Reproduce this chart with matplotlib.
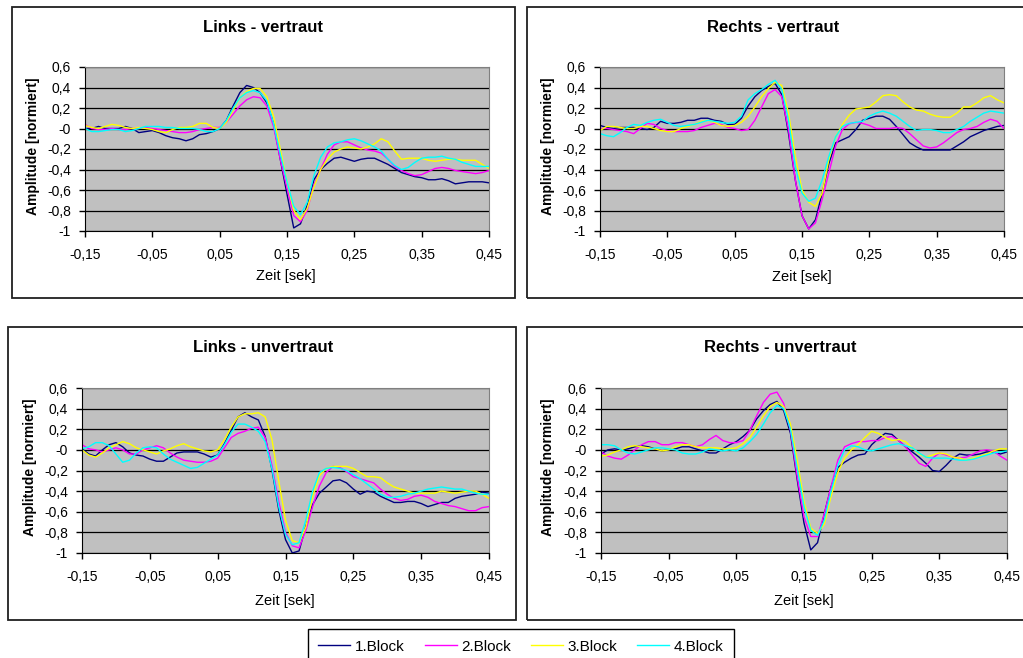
import numpy as np
import matplotlib
matplotlib.use("Agg")
import matplotlib.pyplot as plt
from matplotlib.patches import Rectangle
from matplotlib.ticker import FuncFormatter

plt.rcParams['font.family'] = ['Liberation Sans', 'DejaVu Sans']

# time axis (seconds), one sample every 10 ms
zeit = np.round(np.arange(-0.15, 0.4501, 0.01), 2)

blocks = ['1.Block', '2.Block', '3.Block', '4.Block']
colors = ['#000080', '#FF00FF', '#FFFF00', '#00FFFF']

# Links - vertraut
lv_b1 = [0.0, 0.0, 0.02, 0.0, 0.0, 0.0, 0.02, 0.0, -0.04, -0.03, -0.02, -0.04, -0.07, -0.09, -0.10,
         -0.12, -0.10, -0.06, -0.05, -0.03, 0.0, 0.08, 0.22, 0.35, 0.42, 0.40, 0.35, 0.25, 0.05, -0.30,
         -0.64, -0.97, -0.93, -0.75, -0.50, -0.40, -0.34, -0.29, -0.28, -0.30, -0.32, -0.30, -0.29, -0.29, -0.32,
         -0.35, -0.39, -0.43, -0.45, -0.47, -0.48, -0.50, -0.50, -0.49, -0.51, -0.54, -0.53, -0.52, -0.52, -0.52,
         -0.53]
lv_b2 = [0.04, 0.0, -0.01, -0.01, 0.0, -0.01, -0.01, 0.0, 0.0, 0.01, 0.0, -0.01, -0.02, -0.03, -0.04,
         -0.04, -0.03, -0.01, 0.0, 0.01, 0.01, 0.06, 0.14, 0.22, 0.28, 0.31, 0.30, 0.22, 0.02, -0.30,
         -0.58, -0.85, -0.91, -0.80, -0.55, -0.40, -0.25, -0.16, -0.13, -0.13, -0.16, -0.19, -0.21, -0.22, -0.24,
         -0.30, -0.37, -0.41, -0.44, -0.46, -0.45, -0.42, -0.39, -0.38, -0.39, -0.41, -0.42, -0.43, -0.44, -0.43,
         -0.41]
lv_b3 = [0.03, 0.01, 0.0, 0.02, 0.04, 0.03, 0.01, 0.0, 0.01, 0.0, -0.01, -0.03, -0.04, -0.01, 0.01,
         0.01, 0.02, 0.05, 0.05, 0.01, 0.0, 0.06, 0.18, 0.30, 0.36, 0.39, 0.39, 0.31, 0.12, -0.20,
         -0.52, -0.80, -0.89, -0.78, -0.57, -0.40, -0.30, -0.23, -0.20, -0.18, -0.19, -0.20, -0.18, -0.15, -0.10,
         -0.13, -0.22, -0.30, -0.29, -0.29, -0.29, -0.31, -0.32, -0.31, -0.30, -0.30, -0.31, -0.31, -0.31, -0.35,
         -0.39]
lv_b4 = [0.0, -0.03, -0.03, -0.02, -0.01, -0.01, -0.03, -0.02, 0.0, 0.02, 0.02, 0.02, 0.01, 0.01, 0.0,
         0.0, 0.0, -0.01, -0.03, -0.03, 0.0, 0.08, 0.20, 0.30, 0.35, 0.37, 0.35, 0.27, 0.05, -0.25,
         -0.52, -0.76, -0.84, -0.72, -0.46, -0.28, -0.18, -0.14, -0.13, -0.11, -0.10, -0.12, -0.15, -0.18, -0.22,
         -0.30, -0.36, -0.40, -0.38, -0.33, -0.29, -0.28, -0.28, -0.27, -0.29, -0.30, -0.33, -0.35, -0.37, -0.37,
         -0.37]

# Rechts - vertraut
rv_b1 = [0.03, 0.01, 0.0, 0.01, 0.01, 0.01, 0.0, -0.01, 0.01, 0.07, 0.05, 0.05, 0.06, 0.08, 0.08,
         0.10, 0.10, 0.08, 0.07, 0.04, 0.04, 0.10, 0.22, 0.31, 0.37, 0.41, 0.44, 0.33, -0.05, -0.50,
         -0.85, -0.98, -0.89, -0.63, -0.34, -0.14, -0.11, -0.08, -0.01, 0.08, 0.10, 0.12, 0.12, 0.09, 0.02,
         -0.06, -0.14, -0.18, -0.21, -0.21, -0.21, -0.21, -0.21, -0.17, -0.13, -0.08, -0.05, -0.02, 0.0, 0.02,
         0.03]
rv_b2 = [0.0, 0.0, -0.01, -0.02, -0.03, -0.05, 0.0, 0.05, 0.04, 0.0, -0.02, -0.03, -0.03, -0.03, -0.02,
         0.01, 0.03, 0.05, 0.04, 0.01, 0.0, -0.02, -0.01, 0.08, 0.21, 0.34, 0.38, 0.31, -0.01, -0.50,
         -0.85, -0.98, -0.92, -0.69, -0.43, -0.17, -0.01, 0.045, 0.06, 0.05, 0.03, 0.0, 0.0, 0.0, 0.01,
         0.0, -0.05, -0.11, -0.17, -0.19, -0.18, -0.14, -0.09, -0.04, -0.01, 0.0, 0.02, 0.06, 0.09, 0.07,
         0.0]
rv_b3 = [-0.02, 0.02, 0.02, 0.01, 0.0, 0.0, 0.02, 0.02, 0.0, -0.02, -0.03, -0.03, 0.0, 0.02, 0.04,
         0.07, 0.08, 0.06, 0.03, 0.02, 0.03, 0.06, 0.12, 0.21, 0.31, 0.39, 0.45, 0.42, 0.15, -0.27,
         -0.60, -0.72, -0.76, -0.63, -0.30, -0.08, 0.04, 0.13, 0.19, 0.20, 0.21, 0.26, 0.32, 0.33, 0.32,
         0.26, 0.21, 0.18, 0.17, 0.14, 0.12, 0.11, 0.11, 0.15, 0.21, 0.21, 0.25, 0.30, 0.32, 0.28,
         0.25]
rv_b4 = [-0.05, -0.07, -0.08, -0.04, 0.01, 0.04, 0.03, 0.06, 0.08, 0.09, 0.06, 0.03, 0.02, 0.03, 0.04,
         0.06, 0.08, 0.07, 0.06, 0.05, 0.06, 0.12, 0.28, 0.34, 0.38, 0.43, 0.47, 0.38, 0.08, -0.37,
         -0.63, -0.71, -0.68, -0.50, -0.27, -0.08, 0.02, 0.05, 0.06, 0.07, 0.12, 0.15, 0.17, 0.15, 0.12,
         0.07, 0.02, -0.02, -0.01, -0.01, -0.02, -0.04, -0.04, -0.01, 0.02, 0.07, 0.11, 0.15, 0.17, 0.16,
         0.15]

# Links - unvertraut
lu_b1 = [0.01, -0.04, -0.06, 0.0, 0.05, 0.07, 0.03, -0.03, -0.05, -0.06, -0.09, -0.11, -0.11, -0.07, -0.03,
         -0.02, -0.02, -0.02, -0.04, -0.07, -0.05, 0.06, 0.19, 0.32, 0.36, 0.32, 0.29, 0.13, -0.19, -0.58,
         -0.87, -1.0, -0.98, -0.74, -0.53, -0.42, -0.36, -0.30, -0.29, -0.32, -0.38, -0.43, -0.40, -0.41, -0.45,
         -0.48, -0.51, -0.51, -0.50, -0.50, -0.52, -0.55, -0.53, -0.51, -0.51, -0.47, -0.45, -0.44, -0.43, -0.41,
         -0.42]
lu_b2 = [0.05, 0.01, 0.0, -0.02, 0.0, 0.02, 0.0, -0.04, -0.04, 0.0, 0.02, 0.04, 0.02, -0.03, -0.07,
         -0.10, -0.11, -0.12, -0.12, -0.11, -0.08, 0.02, 0.12, 0.16, 0.18, 0.21, 0.22, 0.12, -0.15, -0.50,
         -0.80, -0.93, -0.95, -0.78, -0.55, -0.35, -0.22, -0.16, -0.17, -0.21, -0.26, -0.28, -0.30, -0.32, -0.38,
         -0.43, -0.47, -0.49, -0.48, -0.45, -0.44, -0.46, -0.50, -0.52, -0.54, -0.55, -0.57, -0.59, -0.59, -0.56,
         -0.55]
lu_b3 = [0.0, -0.05, -0.07, -0.03, 0.02, 0.05, 0.08, 0.06, 0.02, 0.0, -0.02, -0.04, -0.01, 0.01, 0.04,
         0.06, 0.03, 0.01, -0.01, -0.02, 0.0, 0.10, 0.22, 0.32, 0.35, 0.35, 0.36, 0.32, 0.10, -0.30,
         -0.68, -0.88, -0.90, -0.75, -0.45, -0.25, -0.18, -0.16, -0.16, -0.16, -0.18, -0.22, -0.26, -0.26, -0.27,
         -0.32, -0.36, -0.38, -0.40, -0.42, -0.42, -0.42, -0.42, -0.40, -0.41, -0.42, -0.41, -0.40, -0.40, -0.43,
         -0.47]
lu_b4 = [0.01, 0.03, 0.07, 0.07, 0.04, -0.04, -0.12, -0.10, -0.03, 0.02, 0.03, 0.02, -0.04, -0.09, -0.12,
         -0.15, -0.18, -0.17, -0.13, -0.09, -0.05, 0.05, 0.17, 0.25, 0.25, 0.22, 0.18, 0.08, -0.18, -0.55,
         -0.82, -0.92, -0.90, -0.68, -0.40, -0.22, -0.18, -0.17, -0.18, -0.20, -0.24, -0.28, -0.33, -0.38, -0.43,
         -0.46, -0.46, -0.45, -0.43, -0.42, -0.40, -0.38, -0.37, -0.36, -0.37, -0.38, -0.38, -0.40, -0.42, -0.43,
         -0.43]

# Rechts - unvertraut
ru_b1 = [-0.04, 0.0, 0.01, 0.0, 0.01, 0.03, 0.04, 0.03, 0.01, -0.01, 0.0, 0.01, 0.03, 0.03, 0.01,
         -0.01, -0.03, -0.03, 0.01, 0.05, 0.08, 0.13, 0.19, 0.30, 0.38, 0.44, 0.47, 0.38, 0.16, -0.29,
         -0.71, -0.97, -0.90, -0.62, -0.36, -0.17, -0.12, -0.08, -0.05, -0.04, 0.05, 0.11, 0.16, 0.15, 0.09,
         0.03, -0.02, -0.07, -0.13, -0.20, -0.21, -0.15, -0.08, -0.04, -0.05, -0.05, -0.04, -0.02, -0.02, -0.04,
         -0.02]
ru_b2 = [-0.02, -0.06, -0.08, -0.09, -0.05, 0.0, 0.05, 0.08, 0.08, 0.05, 0.05, 0.07, 0.07, 0.05, 0.03,
         0.05, 0.10, 0.14, 0.09, 0.07, 0.07, 0.09, 0.19, 0.33, 0.46, 0.54, 0.56, 0.45, 0.19, -0.26,
         -0.65, -0.84, -0.84, -0.62, -0.36, -0.10, 0.03, 0.06, 0.08, 0.08, 0.09, 0.09, 0.12, 0.13, 0.09,
         0.03, -0.05, -0.13, -0.16, -0.08, -0.03, -0.05, -0.07, -0.08, -0.07, -0.04, -0.01, 0.0, -0.01, -0.06,
         -0.10]
ru_b3 = [-0.06, -0.05, -0.02, 0.0, 0.03, 0.04, 0.03, 0.02, 0.01, -0.01, 0.0, 0.03, 0.05, 0.05, 0.03,
         0.02, 0.02, 0.02, 0.01, 0.01, 0.02, 0.06, 0.12, 0.22, 0.33, 0.42, 0.46, 0.42, 0.25, -0.10,
         -0.50, -0.76, -0.81, -0.72, -0.45, -0.22, -0.08, 0.0, 0.05, 0.12, 0.18, 0.16, 0.12, 0.09, 0.10,
         0.08, 0.02, -0.04, -0.07, -0.05, -0.03, -0.04, -0.07, -0.08, -0.10, -0.08, -0.06, -0.04, -0.01, 0.01,
         0.01]
ru_b4 = [0.05, 0.05, 0.04, 0.0, -0.03, -0.04, -0.02, 0.0, 0.02, 0.02, 0.01, 0.0, -0.03, -0.04, -0.04,
         -0.02, 0.01, 0.0, -0.01, 0.0, -0.01, 0.02, 0.08, 0.15, 0.25, 0.36, 0.43, 0.40, 0.20, -0.18,
         -0.55, -0.78, -0.83, -0.68, -0.40, -0.15, 0.0, 0.04, 0.03, 0.0, -0.01, 0.01, 0.03, 0.05, 0.06,
         0.04, 0.02, -0.03, -0.07, -0.08, -0.08, -0.08, -0.09, -0.10, -0.10, -0.09, -0.07, -0.05, -0.03, -0.02,
         -0.01]

panels = [
    ('Links - vertraut', [lv_b1, lv_b2, lv_b3, lv_b4]),
    ('Rechts - vertraut', [rv_b1, rv_b2, rv_b3, rv_b4]),
    ('Links - unvertraut', [lu_b1, lu_b2, lu_b3, lu_b4]),
    ('Rechts - unvertraut', [ru_b1, ru_b2, ru_b3, ru_b4]),
]

W, H = 1023, 658
fig = plt.figure(figsize=(W / 100, H / 100), dpi=100)
fig.patch.set_facecolor('white')


def fx(px):
    return px / W


def fy(py):
    return 1 - py / H


# pixel layout: plot box, frame box, title/label positions
layout = [
    dict(plot=(85, 67, 489, 231), frame=(12, 7, 515, 298), tx=263, ty=27, yl=33, xl=(286, 276)),
    dict(plot=(600, 67, 1004, 231), frame=(527, 7, 1040, 298), tx=773, ty=27, yl=548, xl=(802, 277)),
    dict(plot=(82, 388, 489, 553), frame=(8, 327, 516, 620), tx=263, ty=347, yl=30, xl=(285, 601)),
    dict(plot=(601, 388, 1007, 553), frame=(527, 327, 1040, 620), tx=780, ty=348, yl=548, xl=(804, 601)),
]

comma = FuncFormatter(lambda v, p: ('%g' % round(v, 2)).replace('.', ','))
xfmt = FuncFormatter(lambda v, p: ('%.2f' % v).replace('.', ','))

lines = []
for (title, series), lay in zip(panels, layout):
    x0, y0, x1, y1 = lay['plot']
    ax = fig.add_axes([fx(x0), fy(y1), fx(x1 - x0), (y1 - y0) / H])
    ax.set_facecolor('#C0C0C0')
    ax.set_axisbelow(True)
    ax.yaxis.grid(True, color='black', lw=0.9)
    lines = []
    for vals, c, lab in zip(series, colors, blocks):
        ln, = ax.plot(zeit, vals, color=c, lw=1.0, label=lab)
        lines.append(ln)
    ax.set_xlim(-0.15, 0.45)
    ax.set_ylim(-1, 0.6)
    ax.set_xticks(np.arange(-0.15, 0.451, 0.1))
    ax.set_yticks(np.arange(-1, 0.61, 0.2))
    ax.xaxis.set_major_formatter(xfmt)
    ax.yaxis.set_major_formatter(comma)
    ax.tick_params(axis='x', direction='out', length=4, width=1, pad=8, labelsize=10)
    ax.tick_params(axis='y', direction='out', length=4, width=1, pad=6, labelsize=10)
    for s in ['top', 'right']:
        ax.spines[s].set_color('#808080')
    for s in ['left', 'bottom']:
        ax.spines[s].set_color('black')
    fl, ft, fr, fb = lay['frame']
    fig.patches.append(Rectangle((fx(fl), fy(fb)), fx(fr - fl), (fb - ft) / H,
                                 transform=fig.transFigure, fill=False,
                                 edgecolor='#202020', lw=1.3))
    fig.text(fx(lay['tx']), fy(lay['ty']), title, ha='center', va='center',
             fontsize=12, fontweight='bold')
    fig.text(fx(lay['yl']), fy((y0 + y1) / 2 - 3), 'Amplitude [normiert]', rotation=90,
             ha='center', va='center', fontsize=10, fontweight='bold')
    fig.text(fx(lay['xl'][0]), fy(lay['xl'][1]), 'Zeit [sek]', ha='center', va='center',
             fontsize=10.5)

leg = fig.legend(lines, blocks, loc='upper center', bbox_to_anchor=(fx(521), fy(629)),
                 borderaxespad=0, ncol=4, fontsize=11, frameon=True, fancybox=False,
                 framealpha=1, edgecolor='black', handlelength=2.1, handletextpad=0.3,
                 columnspacing=1.3, borderpad=0.7)
leg.get_frame().set_linewidth(1.0)

fig.savefig('out.png', dpi=100)
